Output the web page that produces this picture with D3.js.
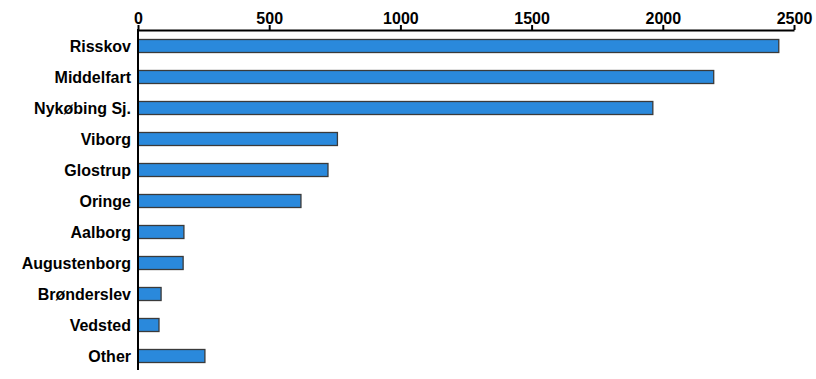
<!DOCTYPE html>
<html><head><meta charset="utf-8">
<script src="https://cdn.jsdelivr.net/npm/d3@7"></script>
<style>body{margin:0;background:#fff}svg{display:block}</style>
</head><body>
<svg id="c" width="816" height="379"></svg>
<script>
const categories = ["Risskov","Middelfart","Nykøbing Sj.","Viborg","Glostrup","Oringe","Aalborg","Augustenborg","Brønderslev","Vedsted","Other"];
const values = [2442, 2194, 1962, 760, 724, 621, 175, 172, 88, 80, 255];
const tickValues = [0, 500, 1000, 1500, 2000, 2500];

const svg = d3.select("#c");
const x = d3.scaleLinear().domain([0, 2500]).range([138, 794]);
const y = d3.scaleBand().domain(categories).range([30.5, 371.5]).paddingInner(0.58).paddingOuter(0.29);
const font = "'Liberation Sans', Arial, sans-serif";

svg.append("g").selectAll("rect").data(categories).join("rect")
  .attr("x", x(0))
  .attr("y", d => y(d))
  .attr("width", (d,i) => x(values[i]) - x(0))
  .attr("height", y.bandwidth())
  .attr("fill", "#2a89dc")
  .attr("stroke", "#3a3a3a")
  .attr("stroke-width", 1.3);

const xa = svg.append("g").attr("transform", "translate(0,30)")
  .call(d3.axisTop(x).tickValues(tickValues).tickSize(5).tickSizeOuter(0).tickPadding(1.5).tickFormat(d3.format("d")));
xa.select(".domain").attr("stroke", "#000").attr("stroke-width", 2);
xa.selectAll(".tick line").attr("stroke", "#000").attr("stroke-width", 2);
xa.selectAll(".tick text").attr("font-family", font).attr("font-weight", "bold").attr("font-size", "16px").attr("fill", "#000");

const ya = svg.append("g").attr("transform", "translate(138,0)")
  .call(d3.axisLeft(y).tickSize(0).tickPadding(7));
ya.select(".domain").remove();
svg.append("line").attr("x1", 138).attr("x2", 138).attr("y1", 29).attr("y2", 370).attr("stroke", "#000").attr("stroke-width", 2);
ya.selectAll(".tick text").attr("font-family", font).attr("font-weight", "bold").attr("font-size", "16px").attr("fill", "#000").attr("dy", "0.4em");
</script>
</body></html>
